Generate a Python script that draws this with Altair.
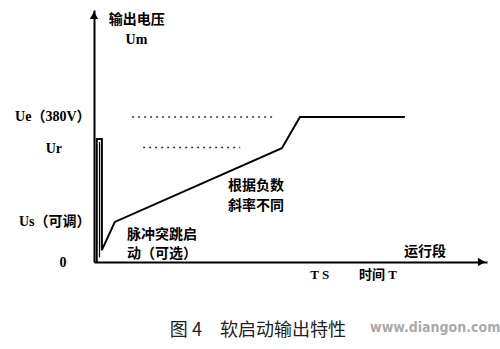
import altair as alt
import pandas as pd

# ---- data (time in arbitrary units 0-100, voltage in V) ----
curve_t = [0.7, 0.7, 2.0, 2.0, 5.3, 47.8, 52.4, 79.1]
curve_u = [0, 322, 322, 31, 105, 298, 380, 380]

pulse_inner_t = [1.4, 1.4]
pulse_inner_u = [12, 314]

ref_names = ["Ue", "Ur"]
ref_u = [380, 300]
ref_start = [9.7, 12.5]
ref_end = [46.0, 37.2]

y_tick_values = [105, 380]
x_tick_values = [57.3, 72.1]

side_texts = ["Ur", "0"]
side_t = [-10.2, -7.9]
side_u = [296, -3]

cjk_texts = ["输出电压", "脉冲突跳启", "动（可选）", "根据负数", "斜率不同", "运行段"]
cjk_t = [10.9, 8.4, 8.4, 34.1, 34.1, 84.2]
cjk_u = [634, 70, 22, 199, 146, 27]
cjk_align = ["center", "left", "left", "left", "left", "center"]

um_text = ["Um"]
um_t = [10.8]
um_u = [581]

caption_text = ["图 4\u3000软启动输出特性"]
caption_t = [41.7]
caption_u = [-181]

mark_text = ["www.diangon.com"]
mark_t = [86.8]
mark_u = [-174]

arrow_t = [0.0, 98.6]
arrow_u = [646, 0]
arrow_shape = ["triangle-up", "triangle-right"]

curve_df = pd.DataFrame({"t": curve_t, "u": curve_u, "i": range(len(curve_t))})
inner_df = pd.DataFrame({"t": pulse_inner_t, "u": pulse_inner_u})
ref_df = pd.DataFrame({"name": ref_names, "u": ref_u, "t0": ref_start, "t1": ref_end})
side_df = pd.DataFrame({"text": side_texts, "t": side_t, "u": side_u})
cjk_df = pd.DataFrame({"text": cjk_texts, "t": cjk_t, "u": cjk_u, "align": cjk_align})
um_df = pd.DataFrame({"text": um_text, "t": um_t, "u": um_u})
cap_df = pd.DataFrame({"text": caption_text, "t": caption_t, "u": caption_u})
wm_df = pd.DataFrame({"text": mark_text, "t": mark_t, "u": mark_u})
arrow_df = pd.DataFrame({"t": arrow_t, "u": arrow_u, "shape": arrow_shape})

x_scale = alt.Scale(domain=[0, 100], nice=False, zero=False)
y_scale = alt.Scale(domain=[0, 660], nice=False)

SERIF_CJK = "Liberation Serif, Noto Sans CJK SC"
CJK = "Noto Sans CJK SC"

y_label_expr = "datum.value == 380 ? 'Ue（380V）' : 'Us（可调）'"

x_axis = alt.Axis(
    values=x_tick_values,
    labelExpr="datum.value < 65 ? 'T S' : '时间 T'",
    ticks=False, grid=False, title=None,
    domainColor="black", domainWidth=2,
    labelFont=SERIF_CJK, labelFontSize=13, labelFontWeight="bold",
    labelColor="black", labelPadding=6,
)
y_axis = alt.Axis(
    values=y_tick_values,
    labelExpr=y_label_expr,
    ticks=False, grid=False, title=None,
    domainColor="black", domainWidth=2,
    labelFont=SERIF_CJK, labelFontSize=14, labelFontWeight="bold",
    labelColor="black", labelPadding=4,
)

X = lambda f="t": alt.X(f"{f}:Q", scale=x_scale, axis=x_axis)
Y = lambda f="u": alt.Y(f"{f}:Q", scale=y_scale, axis=y_axis)

curve = alt.Chart(curve_df).mark_line(color="black", strokeWidth=2).encode(
    x=X(), y=Y(), order="i:Q"
)
inner = alt.Chart(inner_df).mark_line(color="black", strokeWidth=1.2).encode(
    x=X(), y=Y()
)
refs = alt.Chart(ref_df).mark_rule(color="#333333", strokeWidth=1.5, strokeDash=[2, 4]).encode(
    x=X("t0"), x2="t1:Q", y=Y()
)
arrows = alt.Chart(arrow_df).mark_point(filled=True, color="black", size=70, opacity=1).encode(
    x=X(), y=Y(),
    shape=alt.Shape("shape:N", scale=None, legend=None),
)

def text_layer(df, align, font, size, weight, color="black"):
    return alt.Chart(df).mark_text(
        align=align, baseline="middle", font=font, fontSize=size,
        fontWeight=weight, color=color,
    ).encode(x=X(), y=Y(), text="text:N")

side = text_layer(side_df, "center", SERIF_CJK, 14, "bold")
cjk_left = text_layer(cjk_df[cjk_df["align"] == "left"], "left", CJK, 14, "bold")
cjk_center = text_layer(cjk_df[cjk_df["align"] == "center"], "center", CJK, 14, "bold")
um = text_layer(um_df, "center", SERIF_CJK, 14, "bold")
caption = text_layer(cap_df, "center", CJK, 18, "normal", "#222222")
watermark = text_layer(wm_df, "center", "DejaVu Sans Condensed", 14, "bold", "#aaaaaa")

chart = alt.layer(
    refs, curve, inner, arrows, side, cjk_left, cjk_center, um, caption, watermark
).properties(
    width=393, height=252,
    padding={"left": 94, "top": 10, "right": 13, "bottom": 87},
    autosize=alt.AutoSizeParams(type="none"),
    background="white",
).configure_view(stroke=None)

chart.save("out.html", embed_options={"renderer": "svg", "actions": False})
